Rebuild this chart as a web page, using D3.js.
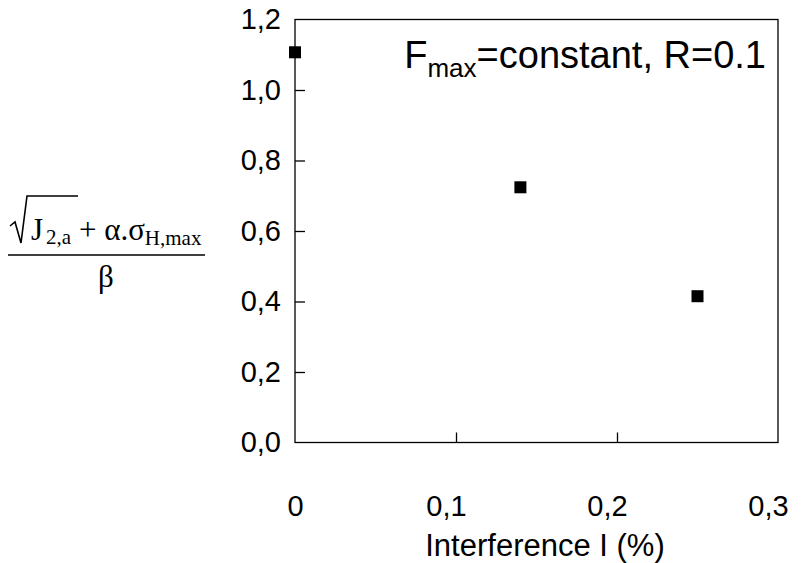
<!DOCTYPE html>
<html>
<head>
<meta charset="utf-8">
<script src="https://cdn.jsdelivr.net/npm/d3@7"></script>
<style>
  html, body { margin: 0; padding: 0; background: #fff; }
  svg { display: block; }
</style>
</head>
<body>
<svg id="chart" width="803" height="563"></svg>
<script>
// ---- data ----
const interference = [0, 0.14, 0.25];
const stressRatio = [1.107, 0.724, 0.415];
const xTickValues = [0, 0.1, 0.2, 0.3];
const xTickLabels = ["0", "0,1", "0,2", "0,3"];
const yTickValues = [0, 0.2, 0.4, 0.6, 0.8, 1.0, 1.2];
const yTickLabels = ["0,0", "0,2", "0,4", "0,6", "0,8", "1,0", "1,2"];
const xTitle = "Interference I (%)";

const W = 803, H = 563;
const margin = { left: 295, right: 25, top: 19.5, bottom: 120.5 };
const svg = d3.select("#chart");
const font = "Liberation Sans, Arial, Helvetica, sans-serif";
const serif = "Liberation Serif, Times New Roman, serif";

const x = d3.scaleLinear().domain([0, 0.3]).range([margin.left, W - margin.right]);
const y = d3.scaleLinear().domain([0, 1.2]).range([H - margin.bottom, margin.top]);

// frame
svg.append("rect")
  .attr("x", x(0)).attr("y", y(1.2))
  .attr("width", x(0.3) - x(0)).attr("height", y(0) - y(1.2))
  .attr("fill", "none").attr("stroke", "#000").attr("stroke-width", 1.3);

// y axis (inner ticks)
const yAxis = d3.axisLeft(y).tickValues(yTickValues)
  .tickFormat((d, i) => yTickLabels[i]).tickSizeInner(-10).tickSizeOuter(0).tickPadding(14);
const gy = svg.append("g").attr("transform", `translate(${x(0)},0)`).call(yAxis);
gy.select(".domain").remove();
gy.selectAll(".tick line").attr("stroke", "#000").attr("stroke-width", 1.3)
  .filter(d => d === 0 || d === 1.2).remove();
gy.selectAll(".tick text").attr("font-family", font).attr("font-size", 29).attr("fill", "#000");

// x axis (inner ticks)
const xAxis = d3.axisBottom(x).tickValues(xTickValues)
  .tickFormat((d, i) => xTickLabels[i]).tickSizeInner(-10).tickSizeOuter(0).tickPadding(53);
const gx = svg.append("g").attr("transform", `translate(0,${y(0)})`).call(xAxis);
gx.select(".domain").remove();
gx.selectAll(".tick line").attr("stroke", "#000").attr("stroke-width", 1.3)
  .filter(d => d === 0 || d === 0.3).remove();
gx.selectAll(".tick text").attr("font-family", font).attr("font-size", 29).attr("fill", "#000")
  .attr("dx", d => d === 0 ? 0 : -10);

// x title
svg.append("text")
  .attr("x", 545).attr("y", 556)
  .attr("text-anchor", "middle")
  .attr("font-family", font).attr("font-size", 31)
  .text(xTitle);

// annotation
const ann = svg.append("text")
  .attr("x", 766).attr("y", 68)
  .attr("text-anchor", "end")
  .attr("font-family", font).attr("font-size", 38);
ann.append("tspan").text("F");
ann.append("tspan").attr("font-size", 26).attr("dy", 9).text("max");
ann.append("tspan").attr("dy", -9).text("=constant, R=0.1");

// markers
const pts = interference.map((d, i) => ({ x: d, y: stressRatio[i] }));
svg.append("g").selectAll("rect").data(pts).join("rect")
  .attr("x", d => x(d.x) - 6).attr("y", d => y(d.y) - 6)
  .attr("width", 12).attr("height", 12).attr("fill", "#000");

// y-axis label: fraction
const lab = svg.append("g").attr("font-family", serif).attr("fill", "#000");
// sqrt sign
lab.append("path")
  .attr("d", "M10,226 L15,222 L21,243 L27,196 L78,196")
  .attr("fill", "none").attr("stroke", "#000").attr("stroke-width", 1.6);
const num = lab.append("text").attr("x", 31).attr("y", 240).attr("font-size", 31);
num.append("tspan").text("J");
num.append("tspan").attr("font-size", 21).attr("dy", 4).attr("dx", 3).text("2,a");
num.append("tspan").attr("dy", -4).text(" + \u03B1.\u03C3");
num.append("tspan").attr("font-size", 21).attr("dy", 5).text("H,max");
lab.append("line").attr("x1", 8).attr("x2", 205).attr("y1", 255).attr("y2", 255)
  .attr("stroke", "#000").attr("stroke-width", 1.6);
lab.append("text").attr("x", 106).attr("y", 287).attr("text-anchor", "middle")
  .attr("font-size", 31).text("\u03B2");
</script>
</body>
</html>
